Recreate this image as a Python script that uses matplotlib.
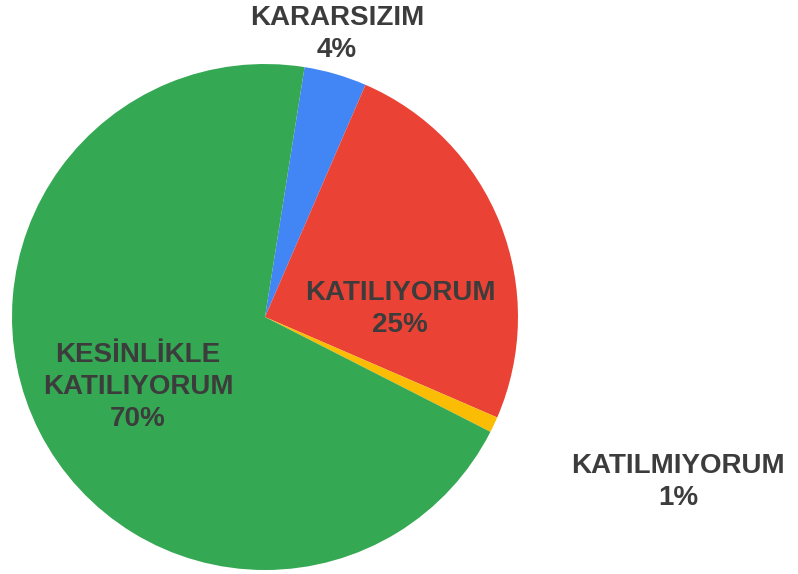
import matplotlib.pyplot as plt

labels = ['KARARSIZIM', 'KATILIYORUM', 'KATILMIYORUM', 'KESİNLİKLE\nKATILIYORUM']
values = [4, 25, 1, 70]
colors = ['#4285f4', '#ea4335', '#fbbc04', '#34a853']

W, H = 798, 574
fig = plt.figure(figsize=(W / 100, H / 100), dpi=100)
ax = fig.add_axes([0, 0, 1, 1])

cx, cy, r = 265, H - 317, 253
ax.pie(values, colors=colors, startangle=81, counterclock=False,
       center=(cx, cy), radius=r, frame=True,
       wedgeprops=dict(linewidth=0))
ax.set_xlim(0, W)
ax.set_ylim(0, H)
ax.set_aspect('equal')
ax.axis('off')

# label positions in pixel coords (from top)
label_pos = [(337, 34), (400, 309), (678, 482), (138, 387)]
txt = dict(fontsize=20, fontweight='bold', color='#3c3c3c',
           family='Liberation Sans', ha='center', va='center', linespacing=1.28)
for lab, v, (x, y) in zip(labels, values, label_pos):
    ax.text(x, H - y, f'{lab}\n{v}%', **txt)

fig.savefig('out.png', dpi=100)
